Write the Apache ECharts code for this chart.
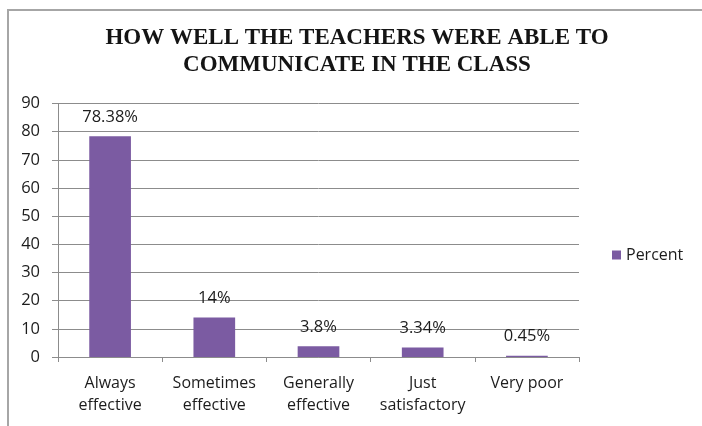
<!DOCTYPE html>
<html>
<head>
<meta charset="utf-8">
<script src="https://cdn.jsdelivr.net/npm/echarts@6/dist/echarts.min.js"></script>
<style>
  html, body { margin: 0; padding: 0; background: #fff; }
  #frame { position: absolute; left: 7px; top: 9px; width: 800px; height: 500px;
           border-top: 2px solid #a6a6a6; border-left: 2px solid #a6a6a6; }
  #chart { position: absolute; left: 0; top: 0; width: 702px; height: 426px; }
</style>
</head>
<body>
<div id="frame"></div>
<div id="chart"></div>
<script>
const titleText = 'HOW WELL THE TEACHERS WERE ABLE TO\nCOMMUNICATE IN THE CLASS';
const categories = ['Always\neffective', 'Sometimes\neffective', 'Generally\neffective', 'Just\nsatisfactory', 'Very poor'];
const seriesName = 'Percent';
const percentValues = [78.38, 14, 3.8, 3.34, 0.45];
const yMin = 0, yMax = 90, yStep = 10;

const chart = echarts.init(document.getElementById('chart'), null, { renderer: 'canvas' });
const sans = '"Open Sans", "Liberation Sans", sans-serif';
const textColor = '#1c1c1c';
chart.setOption({
  backgroundColor: 'transparent',
  animation: false,
  title: {
    text: titleText,
    left: 357,
    top: 25,
    textAlign: 'center',
    padding: 0,
    textStyle: {
      fontFamily: '"Liberation Serif", "DejaVu Serif", serif',
      fontWeight: 'bold',
      fontSize: 23,
      lineHeight: 26.5,
      color: '#141414'
    }
  },
  legend: {
    data: [seriesName],
    left: 612,
    top: 246,
    padding: 0,
    itemWidth: 9,
    itemHeight: 9,
    itemGap: 5,
    icon: 'rect',
    textStyle: { fontFamily: sans, fontSize: 16, color: textColor, lineHeight: 18, padding: [0, 0, 0, 0] }
  },
  grid: {
    left: 58, right: 123, top: 103.5, bottom: 69,
    containLabel: false,
    outerBoundsMode: 'none'
  },
  xAxis: {
    type: 'category',
    data: categories,
    axisLine: { show: true, lineStyle: { color: '#8c8c8c', width: 1 } },
    axisTick: { show: true, length: 5, lineStyle: { color: '#8c8c8c' } },
    axisLabel: {
      fontFamily: sans, fontSize: 16, lineHeight: 22, color: textColor,
      margin: 15, interval: 0
    },
    splitLine: { show: false }
  },
  yAxis: {
    type: 'value',
    min: yMin, max: yMax, interval: yStep,
    axisLine: { show: true, lineStyle: { color: '#8c8c8c', width: 1 } },
    axisTick: { show: true, length: 6, lineStyle: { color: '#8c8c8c' } },
    axisLabel: { fontFamily: sans, fontSize: 16.5, color: textColor, margin: 18 },
    splitLine: { show: true, lineStyle: { color: '#8c8c8c', width: 1 } }
  },
  series: [{
    name: seriesName,
    type: 'bar',
    data: percentValues,
    barWidth: '40%',
    itemStyle: { color: '#7B5BA2' },
    label: {
      show: true,
      position: 'top',
      distance: 11,
      formatter: '{c}%',
      fontFamily: sans, fontSize: 16.5, lineHeight: 16, color: textColor
    }
  }]
});
</script>
</body>
</html>
